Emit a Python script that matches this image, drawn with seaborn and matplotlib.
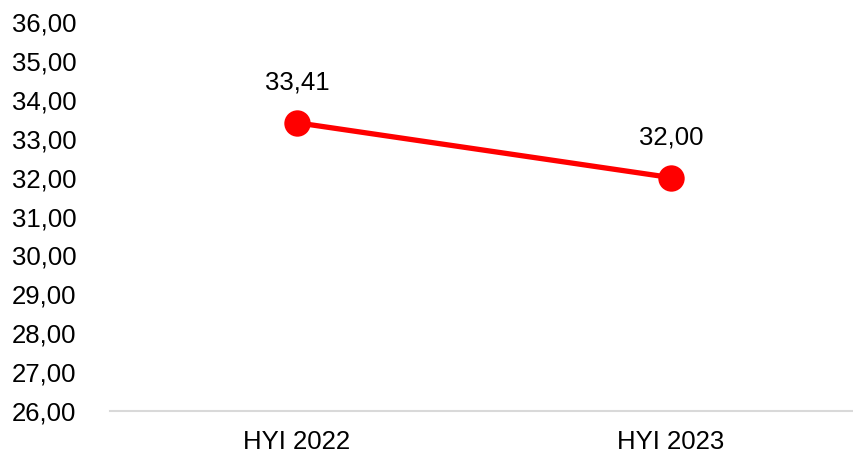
import pandas as pd
import matplotlib.pyplot as plt
import seaborn as sns
from matplotlib.ticker import FuncFormatter

categories = ['HYI 2022', 'HYI 2023']
values = [33.41, 32.00]

df = pd.DataFrame({'period': categories, 'value': values})

sns.set_theme(style='white')
plt.rcParams['font.family'] = ['Liberation Sans', 'DejaVu Sans']

fig = plt.figure(figsize=(8.54, 4.55), dpi=100)
ax = fig.add_axes([110 / 854, 1 - 411 / 455, 748 / 854, 389 / 455])

sns.lineplot(data=df, x='period', y='value', ax=ax, color='#ff0000',
             linewidth=3.8, marker='o', markersize=19, markeredgewidth=0,
             sort=False)

for i, v in enumerate(values):
    ax.annotate(f'{v:.2f}'.replace('.', ','), (i, v), xytext=(0, 29),
                textcoords='offset points', ha='center', va='center',
                fontsize=18.5, color='black')

ax.set_xlim(-0.5, 1.5)
ax.set_ylim(26, 36)
ax.set_yticks(range(26, 37))
ax.yaxis.set_major_formatter(FuncFormatter(lambda v, p: f'{v:.2f}'.replace('.', ',')))
ax.set_xlabel('')
ax.set_ylabel('')

for side in ['top', 'right', 'left']:
    ax.spines[side].set_visible(False)
ax.spines['bottom'].set_color('#d9d9d9')
ax.spines['bottom'].set_linewidth(1.5)

ax.tick_params(axis='y', length=0, pad=70.5, labelsize=18.5, labelcolor='black')
ax.tick_params(axis='x', length=0, pad=13.5, labelsize=18.5, labelcolor='black')
for lbl in ax.get_yticklabels():
    lbl.set_horizontalalignment('left')

fig.savefig('out.png', dpi=100)
